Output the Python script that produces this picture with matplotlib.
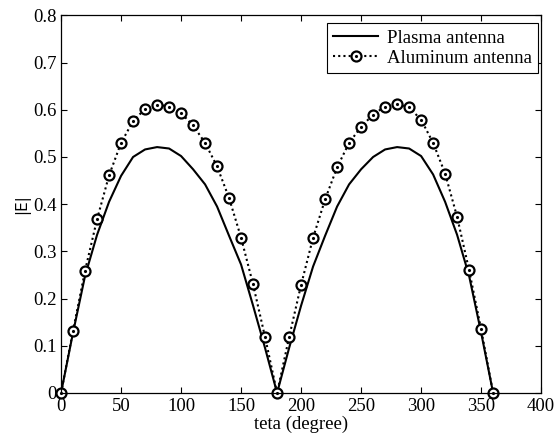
import matplotlib
matplotlib.use("Agg")
import matplotlib.pyplot as plt

plt.rcParams['font.family'] = ['Liberation Serif', 'DejaVu Serif']

theta = list(range(0, 361, 10))
aluminum = [0, 0.132, 0.259, 0.368, 0.461, 0.530, 0.576, 0.602, 0.611, 0.607,
            0.593, 0.567, 0.530, 0.480, 0.413, 0.329, 0.230, 0.118, 0,
            0.118, 0.229, 0.329, 0.410, 0.478, 0.530, 0.564, 0.590, 0.607, 0.613,
            0.605, 0.579, 0.530, 0.465, 0.373, 0.260, 0.135, 0]
plasma = [0, 0.128, 0.248, 0.335, 0.405, 0.460, 0.500, 0.516, 0.521, 0.518,
          0.502, 0.474, 0.442, 0.395, 0.333, 0.272, 0.185, 0.095, 0,
          0.095, 0.185, 0.268, 0.333, 0.395, 0.442, 0.474, 0.500, 0.516, 0.521,
          0.518, 0.502, 0.463, 0.405, 0.335, 0.248, 0.128, 0]

xticks = [0, 50, 100, 150, 200, 250, 300, 350, 400]
yticks = [0, 0.1, 0.2, 0.3, 0.4, 0.5, 0.6, 0.7, 0.8]
ytick_labels = ['0', '0.1', '0.2', '0.3', '0.4', '0.5', '0.6', '0.7', '0.8']

fig = plt.figure(figsize=(5.55, 4.41), dpi=100)
ax = fig.add_axes([0.110, 0.109, 0.865, 0.856])

l1, = ax.plot(theta, plasma, color='black', lw=1.5, label='Plasma antenna')
l2, = ax.plot(theta, aluminum, color='black', lw=1.5, ls=(0, (1, 1.5)),
              marker='o', markersize=7.2, markerfacecolor='white',
              markeredgewidth=1.6, markeredgecolor='black', clip_on=False)
l3, = ax.plot(theta, aluminum, ls='none', marker='.', markersize=2.5,
              color='black', clip_on=False)

ax.set_xlim(0, 400)
ax.set_ylim(0, 0.8)
ax.set_xticks(xticks)
ax.set_yticks(yticks)
ax.set_yticklabels(ytick_labels)
ax.tick_params(direction='in', top=True, right=True, labelsize=13.5,
               length=4, width=0.8)
ax.tick_params(axis='x', pad=4)
ax.tick_params(axis='y', pad=3)
for s in ax.spines.values():
    s.set_linewidth(0.9)

ax.set_xlabel('teta (degree)', fontsize=13.5, labelpad=0)
ax.set_ylabel('|E|', fontsize=11, family='DejaVu Sans', labelpad=2)

leg = ax.legend([l1, (l2, l3)], ['Plasma antenna', 'Aluminum antenna'],
                loc='upper right', bbox_to_anchor=(0.994, 0.98),
                fontsize=13.5, frameon=True, fancybox=False, framealpha=1,
                edgecolor='black', handlelength=2.4, borderpad=0.35,
                labelspacing=0.15, handletextpad=0.45, borderaxespad=0.0)
leg.get_frame().set_linewidth(0.8)

fig.savefig('out.png', dpi=100)
